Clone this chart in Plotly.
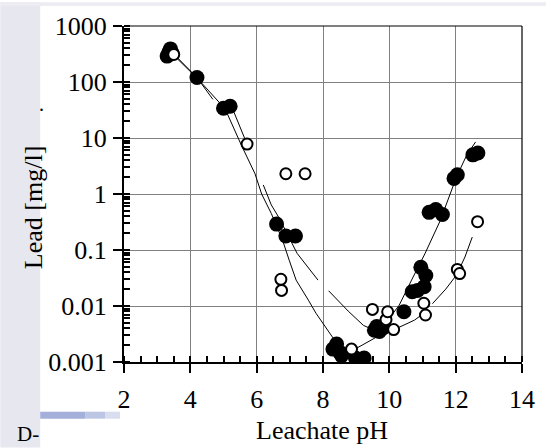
import plotly.graph_objects as go

# ---------------- data ----------------
ph_filled = [3.3, 3.35, 3.4, 3.45, 4.2, 5.0, 5.2, 6.6, 6.88, 7.17,
             8.3, 8.41, 8.5, 8.56, 8.98, 9.24, 9.55, 9.62, 9.7, 9.8,
             10.44, 10.69, 10.85, 10.95, 11.05, 11.1, 11.2, 11.4, 11.6,
             11.95, 12.05, 12.52, 12.67]
pb_filled = [290, 340, 390, 330, 120, 34, 37, 0.29, 0.178, 0.178,
             0.0017, 0.0021, 0.0015, 0.0013, 0.00118, 0.00118, 0.0037, 0.0043, 0.0035, 0.004,
             0.0079, 0.018, 0.019, 0.049, 0.022, 0.035, 0.47, 0.53, 0.43,
             1.9, 2.2, 5.0, 5.4]

ph_open = [3.5, 5.71, 6.88, 7.46, 6.73, 6.75, 8.86, 9.49, 9.9, 9.95,
           10.13, 11.04, 11.09, 12.05, 12.12, 12.66]
pb_open = [310, 7.8, 2.3, 2.3, 0.030, 0.019, 0.0017, 0.0087, 0.0057, 0.0079,
           0.0038, 0.0112, 0.0069, 0.045, 0.038, 0.32]

# fitted curves (None = gap)
curveA_x = [3.45, 4.2, 4.68]
curveA_y = [340, 120, 49]

curveB_x = [3.5, 4.25, 5.05, 5.55, 5.95, 6.15, 6.44, 6.78, 6.98, 7.19, 7.56, 7.79,
            8.34, 8.6, 9.18, 9.71, 10.23, 10.76, 10.97, None,
            11.3, 11.7, 12.03, 12.28, 12.5]
curveB_y = [300, 110, 33, 7.2, 2.3, 1.0, 0.45, 0.15, 0.066, 0.029, 0.0127, 0.0074,
            0.0025, 0.0013, 0.002, 0.003, 0.004, 0.0056, 0.0069, None,
            0.011, 0.02, 0.036, 0.075, 0.17]

curveC_x = [5.25, 5.72]
curveC_y = [36, 7.5]

curveD_x = [6.2, 6.44, 6.68, 6.95, 7.22, 7.85, None,
            8.17, 8.76, 9.22, 9.5, 9.8, 10.05, 10.3, 10.67, 11.07, 11.53, 11.78,
            12.03, 12.33, 12.6]
curveD_y = [1.45, 0.64, 0.37, 0.18, 0.087, 0.029, None,
            0.0187, 0.0081, 0.0045, 0.0038, 0.0042, 0.0065, 0.0104, 0.029, 0.085, 0.33, 0.85,
            2.05, 4.9, 8.5]

x_ticks = [2, 4, 6, 8, 10, 12, 14]
y_ticks = [0.001, 0.01, 0.1, 1, 10, 100, 1000]
y_tick_text = ["0.001", "0.01", "0.1", "1", "10", "100", "1000"]

x_title = "Leachate pH"
y_title = "Lead [mg/l]"

# ---------------- layout geometry ----------------
W, H = 547, 448
L, R, T, B = 124, 24, 24, 86
PW, PH = W - L - R, H - T - B


def px(xp):
    return (xp - L) / PW


def py(yp):
    return 1 - (yp - T) / PH


FONT = "Liberation Serif"
FS = 26

fig = go.Figure()

for cx, cy in [(curveA_x, curveA_y), (curveB_x, curveB_y),
               (curveC_x, curveC_y), (curveD_x, curveD_y)]:
    fig.add_trace(go.Scatter(x=cx, y=cy, mode="lines",
                             line=dict(color="black", width=1),
                             connectgaps=False, hoverinfo="skip", showlegend=False))

fig.add_trace(go.Scatter(x=ph_filled, y=pb_filled, mode="markers",
                         marker=dict(symbol="circle", size=15, color="black",
                                     line=dict(color="black", width=0)),
                         showlegend=False))
fig.add_trace(go.Scatter(x=ph_open, y=pb_open, mode="markers",
                         marker=dict(symbol="circle", size=11, color="white",
                                     line=dict(color="black", width=2)),
                         showlegend=False))

# overlay axes for inward part of major ticks
fig.add_trace(go.Scatter(x=[None], y=[None], xaxis="x2", yaxis="y2",
                         showlegend=False, hoverinfo="skip"))

tickfont = dict(family=FONT, size=FS, color="black")

fig.update_layout(
    width=W, height=H,
    margin=dict(l=L, r=R, t=T, b=B, pad=0),
    paper_bgcolor="white", plot_bgcolor="white",
    showlegend=False,
    xaxis=dict(range=[2, 14], tickvals=x_ticks, ticktext=[str(v) for v in x_ticks],
               showgrid=True, gridcolor="#808080", gridwidth=1,
               zeroline=False, showline=True, linecolor="black", linewidth=2,
               ticks="outside", ticklen=9, tickwidth=2, tickcolor="black",
               tickfont=tickfont, ticklabelstandoff=4,
               minor=dict(ticks="inside", dtick=0.5, ticklen=6, tickwidth=1.5,
                          tickcolor="black", showgrid=False)),
    yaxis=dict(type="log", range=[-3, 3], tickvals=y_ticks, ticktext=y_tick_text,
               showgrid=True, gridcolor="#808080", gridwidth=1,
               zeroline=False, showline=True, linecolor="black", linewidth=2,
               ticks="outside", ticklen=9, tickwidth=2, tickcolor="black",
               tickfont=tickfont, ticklabelstandoff=1,
               minor=dict(ticks="inside", dtick="D1", ticklen=6, tickwidth=1.5,
                          tickcolor="black", showgrid=False)),
    xaxis2=dict(overlaying="x", range=[2, 14], tickvals=x_ticks, showticklabels=False,
                ticks="inside", ticklen=5, tickwidth=2, tickcolor="black",
                showgrid=False, zeroline=False, showline=False, side="bottom"),
    yaxis2=dict(overlaying="y", type="log", range=[-3, 3], tickvals=y_ticks,
                showticklabels=False, ticks="inside", ticklen=5, tickwidth=2,
                tickcolor="black", showgrid=False, zeroline=False, showline=False,
                side="left"),
)

shapes = [
    # left textured strip of the slide background
    dict(type="rect", xref="paper", yref="paper", x0=px(0), x1=px(40), y0=py(H), y1=py(0),
         fillcolor="#e7e7ef", line=dict(width=0), layer="below"),
    # thin top band
    dict(type="rect", xref="paper", yref="paper", x0=px(0), x1=px(W), y0=py(4), y1=py(0),
         fillcolor="#ececf2", line=dict(width=0), layer="below"),
    # blue bar bottom-left
    dict(type="rect", xref="paper", yref="paper", x0=px(40), x1=px(85), y0=py(419), y1=py(412),
         fillcolor="#a4b0da", line=dict(width=0), layer="below"),
    dict(type="rect", xref="paper", yref="paper", x0=px(85), x1=px(105), y0=py(419), y1=py(412),
         fillcolor="#bcc5e4", line=dict(width=0), layer="below"),
    dict(type="rect", xref="paper", yref="paper", x0=px(105), x1=px(120), y0=py(419), y1=py(412),
         fillcolor="#d8ddef", line=dict(width=0), layer="below"),
    # thin frame on top / right
    dict(type="line", xref="paper", yref="paper", x0=0, x1=1, y0=1, y1=1,
         line=dict(color="black", width=1.2)),
    dict(type="line", xref="paper", yref="paper", x0=1, x1=1, y0=0, y1=1,
         line=dict(color="black", width=1.2)),
]
fig.update_layout(shapes=shapes)

annotations = [
    dict(text=x_title, xref="paper", yref="paper", x=px(322), y=py(448),
         showarrow=False, font=dict(family=FONT, size=FS, color="black"),
         xanchor="center", yanchor="bottom"),
    dict(text=y_title, xref="paper", yref="paper", x=px(34), y=py(207),
         showarrow=False, textangle=-90, font=dict(family=FONT, size=FS, color="black"),
         xanchor="center", yanchor="middle"),
    dict(text="D-", xref="paper", yref="paper", x=px(15), y=py(434),
         showarrow=False, font=dict(family=FONT, size=21, color="black"),
         xanchor="left", yanchor="middle"),
    dict(text=".", xref="paper", yref="paper", x=px(41), y=py(102),
         showarrow=False, font=dict(family=FONT, size=20, color="black"),
         xanchor="center", yanchor="middle"),
]
fig.update_layout(annotations=annotations)

fig.write_html("out.html")
